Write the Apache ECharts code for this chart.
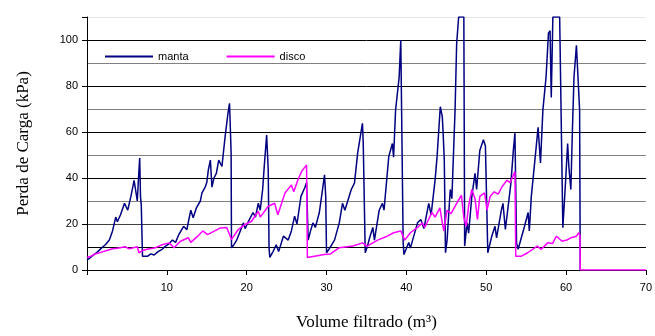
<!DOCTYPE html>
<html>
<head>
<meta charset="utf-8">
<script src="https://cdn.jsdelivr.net/npm/echarts@6/dist/echarts.min.js"></script>
<style>
  html, body { margin: 0; padding: 0; background: #fff; }
  #chart { width: 655px; height: 336px; }
</style>
</head>
<body>
<div id="chart"></div>
<script>
// values: volume (m3) and pressure loss (kPa)
const mantaX = [0, 0.3, 0.8, 1.35, 1.8, 2.3, 2.8, 3.2, 3.6, 3.8, 4.2, 4.7, 5.1, 5.5, 5.9, 6.1, 6.3, 6.45, 6.6, 6.7, 6.8, 6.95,
  7.1, 7.6, 8.0, 8.4, 8.9, 9.4, 9.85, 10.3, 10.7, 11.1, 11.5, 12.1, 12.5, 13.0, 13.3, 13.7, 14.2, 14.4, 14.8, 15.0, 15.2,
  15.45, 15.65, 15.9, 16.2, 16.5, 16.9, 17.3, 17.65, 17.85, 17.95, 18.05, 18.1, 18.4, 18.75, 19.2, 19.6, 19.8, 20.2, 20.8,
  21.1, 21.45, 21.7, 22.0, 22.2, 22.5, 22.7, 22.8, 22.9, 23.3, 23.7, 24.0, 24.6, 25.2, 25.6, 26.0, 26.3, 26.8, 27.3, 27.5,
  27.7, 28.0, 28.3, 28.6, 29.1, 29.5, 29.75, 29.9, 30.0, 30.3, 31.0, 31.6, 32.0, 32.3, 33.1, 33.5, 33.9, 34.3, 34.5, 34.6,
  34.85, 35.1, 35.4, 35.8, 36.0, 36.6, 37.0, 37.2, 37.8, 38.25, 38.4, 38.65, 39.1, 39.3, 39.5, 39.6, 39.7, 40.3, 40.5,
  41.4, 41.8, 42.2, 42.8, 43.1, 43.6, 43.85, 44.25, 44.5, 44.6, 44.75, 44.9, 45.1, 45.5, 45.7, 46.1, 46.3, 46.55, 47.2,
  47.3, 47.6, 47.8, 48.2, 48.6, 48.8, 49.2, 49.65, 49.9, 50.2, 50.7, 51.1, 51.3, 51.9, 52.1, 52.4, 52.75, 53.1, 53.4,
  53.6, 53.8, 54.0, 54.8, 55.25, 55.4, 55.65, 56.1, 56.5, 56.8, 57.1, 57.5, 57.8, 58.0, 58.15, 58.35, 59.2, 59.6, 59.9,
  60.2, 60.35, 60.6, 60.8, 61.0, 61.3, 61.55, 61.7, 61.78];
const mantaY = [4.5, 5, 6.5, 8, 9.5, 11, 13, 17, 23, 21, 24, 29, 26, 32, 39, 39.5, 30, 40, 48.7, 32, 28, 6,
  5.5, 6, 7, 6.5, 8, 9, 10.4, 11.5, 13, 12, 15.4, 19, 17.5, 26, 22.7, 27, 30, 33.5, 36, 38, 43.5,
  47.8, 36, 40, 42, 47.8, 45, 58, 68, 72.5, 62, 51, 9.6, 11, 13, 17, 20.5, 18, 21, 25,
  23, 29, 26, 35, 45, 58.7, 43.5, 9.6, 5.5, 8, 11, 8, 14.7, 13, 17, 23.4, 20, 32, 36, 38,
  13, 17, 20.5, 18.5, 25, 35, 41.4, 32, 7.5, 9, 13, 20.5, 29, 26, 35, 37.8, 50.8, 59.5, 63.8, 55,
  7.5, 10, 14, 18.5, 13, 26, 29, 26, 49.4, 55, 49, 69.5, 84, 100, 100, 11.8, 6.7, 12, 9.5,
  20.5, 22, 18, 29, 24, 39.2, 49.4, 71, 66.7, 60, 47.8, 7.5, 13, 35, 31, 69.5, 98.5, 110, 110,
  10.4, 20.5, 16, 32, 42, 35, 52, 56.6, 54, 7.5, 14.7, 19, 14, 26, 29, 17.6, 27.7, 38, 52,
  59.5, 11.8, 9, 19, 25, 17, 32, 47.8, 62, 46.5, 69.5, 84, 103, 104, 75, 110, 110, 18.4, 36,
  55, 45, 35, 61, 84, 97.7, 97.7, 69.5, 0];

const discoX = [0, 0.5, 1.0, 1.55, 2.0, 2.5, 3.2, 3.8, 4.8, 5.3, 6.3, 6.5, 7.0, 7.5, 8.6, 9.4, 10.3, 10.9, 11.7, 12.7,
  13.0, 13.8, 14.5, 15.1, 16.0, 16.7, 17.5, 18.1, 18.95, 19.8, 20.6, 21.45, 21.7, 22.7, 23.5, 23.9, 24.8, 25.6, 25.9,
  26.4, 26.9, 27.5, 27.6, 28.5, 29.7, 30.5, 31.6, 33.3, 34.5, 35.1, 36.4, 37.6, 38.4, 39.3, 39.8, 40.5, 41.4, 42.0,
  42.3, 43.2, 43.6, 44.2, 44.5, 44.7, 45.1, 45.6, 46.3, 46.9, 47.2, 47.5, 47.8, 48.2, 48.6, 48.9, 49.2, 49.8, 50.1,
  50.5, 51.0, 51.5, 52.0, 52.6, 53.0, 53.6, 53.7, 54.4, 55.2, 56.4, 56.9, 57.7, 58.3, 58.8, 59.5, 60.1, 60.6, 61.3,
  61.6, 61.75, 61.78, 70];
const discoY = [5.4, 6, 7, 7.5, 8, 8.5, 9.2, 9.5, 10.1, 9.2, 10.1, 7.5, 8.5, 9, 9.7, 11, 11.8, 9.7, 12.5, 14,
  12, 14.5, 17, 15.4, 17, 18.3, 18.5, 13.3, 17.6, 19.8, 21.2, 25.5, 23, 27.7, 29, 24, 33.5, 37, 34,
  39, 43, 45.7, 5.4, 6, 6.7, 7, 9.7, 10.4, 11.8, 10.4, 13, 14.7, 16.2, 17, 13, 16.2, 18.5, 20.5,
  18.5, 25, 23, 27, 20.5, 17, 26, 24.5, 29, 32.5, 22.7, 19, 28, 35, 31, 22, 32, 33.5, 26,
  32, 34, 33, 36.3, 39, 38, 42.8, 6, 6, 7.5, 10.4, 9, 11.8, 11.5, 14.7, 12.5, 13, 14, 14.7,
  16.2, 15, 0, 0];

const yLabels = [0, 20, 40, 60, 80, 100];
const xLabels = [10, 20, 30, 40, 50, 60, 70];
const xTicks = [0, 10, 20, 30, 40, 50, 60, 70];

const zip = (xs, ys) => xs.map((x, i) => [x, ys[i]]);

const chart = echarts.init(document.getElementById('chart'), null, { renderer: 'canvas' });

const tickFont = { fontFamily: 'Liberation Sans', fontSize: 11, color: '#000' };
const nameFont = { fontFamily: 'Liberation Serif', fontSize: 17, color: '#000' };

chart.setOption({
  animation: false,
  backgroundColor: '#fff',
  grid: { left: 87, right: 5, top: 17, bottom: 66, containLabel: false },
  legend: {
    left: 100,
    top: 46,
    icon: 'rect',
    itemWidth: 48,
    itemHeight: 2,
    itemGap: 38,
    textStyle: { fontFamily: 'Liberation Sans', fontSize: 11, color: '#000' },
    data: ['manta', 'disco'],
  },
  xAxis: {
    type: 'value',
    min: 0,
    max: 70,
    interval: 10,
    name: 'Volume filtrado (m³)',
    nameLocation: 'middle',
    nameGap: 44,
    nameTextStyle: nameFont,
    axisLine: { lineStyle: { color: '#000', width: 1 } },
    axisTick: { show: true, length: 5, lineStyle: { color: '#000' }, customValues: xTicks },
    axisLabel: { ...tickFont, margin: 12, customValues: xLabels },
    splitLine: { show: false },
  },
  yAxis: [
    {
      // grid lines every 10 kPa
      type: 'value',
      min: 0,
      max: 110,
      interval: 10,
      name: 'Perda de Carga (kPa)',
      nameLocation: 'middle',
      nameGap: 55,
      nameTextStyle: nameFont,
      axisLine: { show: true, lineStyle: { color: '#000', width: 1 } },
      axisTick: { show: false },
      axisLabel: { show: false },
      splitLine: {
        show: true,
        lineStyle: {
          width: 1,
          color: ['#000', '#000', '#404040', '#808080', '#000', '#808080', '#000', '#808080', '#000', '#808080', '#000', '#e6e6e6'],
        },
      },
    },
    {
      // labels and ticks every 20 kPa
      type: 'value',
      position: 'left',
      min: 0,
      max: 110,
      interval: 20,
      axisLine: { show: false },
      axisTick: { show: true, length: 5, lineStyle: { color: '#000' } },
      axisLabel: { ...tickFont, margin: 9, customValues: yLabels },
      splitLine: { show: false },
    },
  ],
  series: [
    {
      name: 'manta',
      type: 'line',
      yAxisIndex: 0,
      showSymbol: false,
      color: '#000080',
      lineStyle: { color: '#000080', width: 1.5 },
      data: zip(mantaX, mantaY),
    },
    {
      name: 'disco',
      type: 'line',
      yAxisIndex: 0,
      showSymbol: false,
      color: '#ff00ff',
      lineStyle: { color: '#ff00ff', width: 1.5 },
      data: zip(discoX, discoY),
    },
  ],
});
</script>
</body>
</html>
